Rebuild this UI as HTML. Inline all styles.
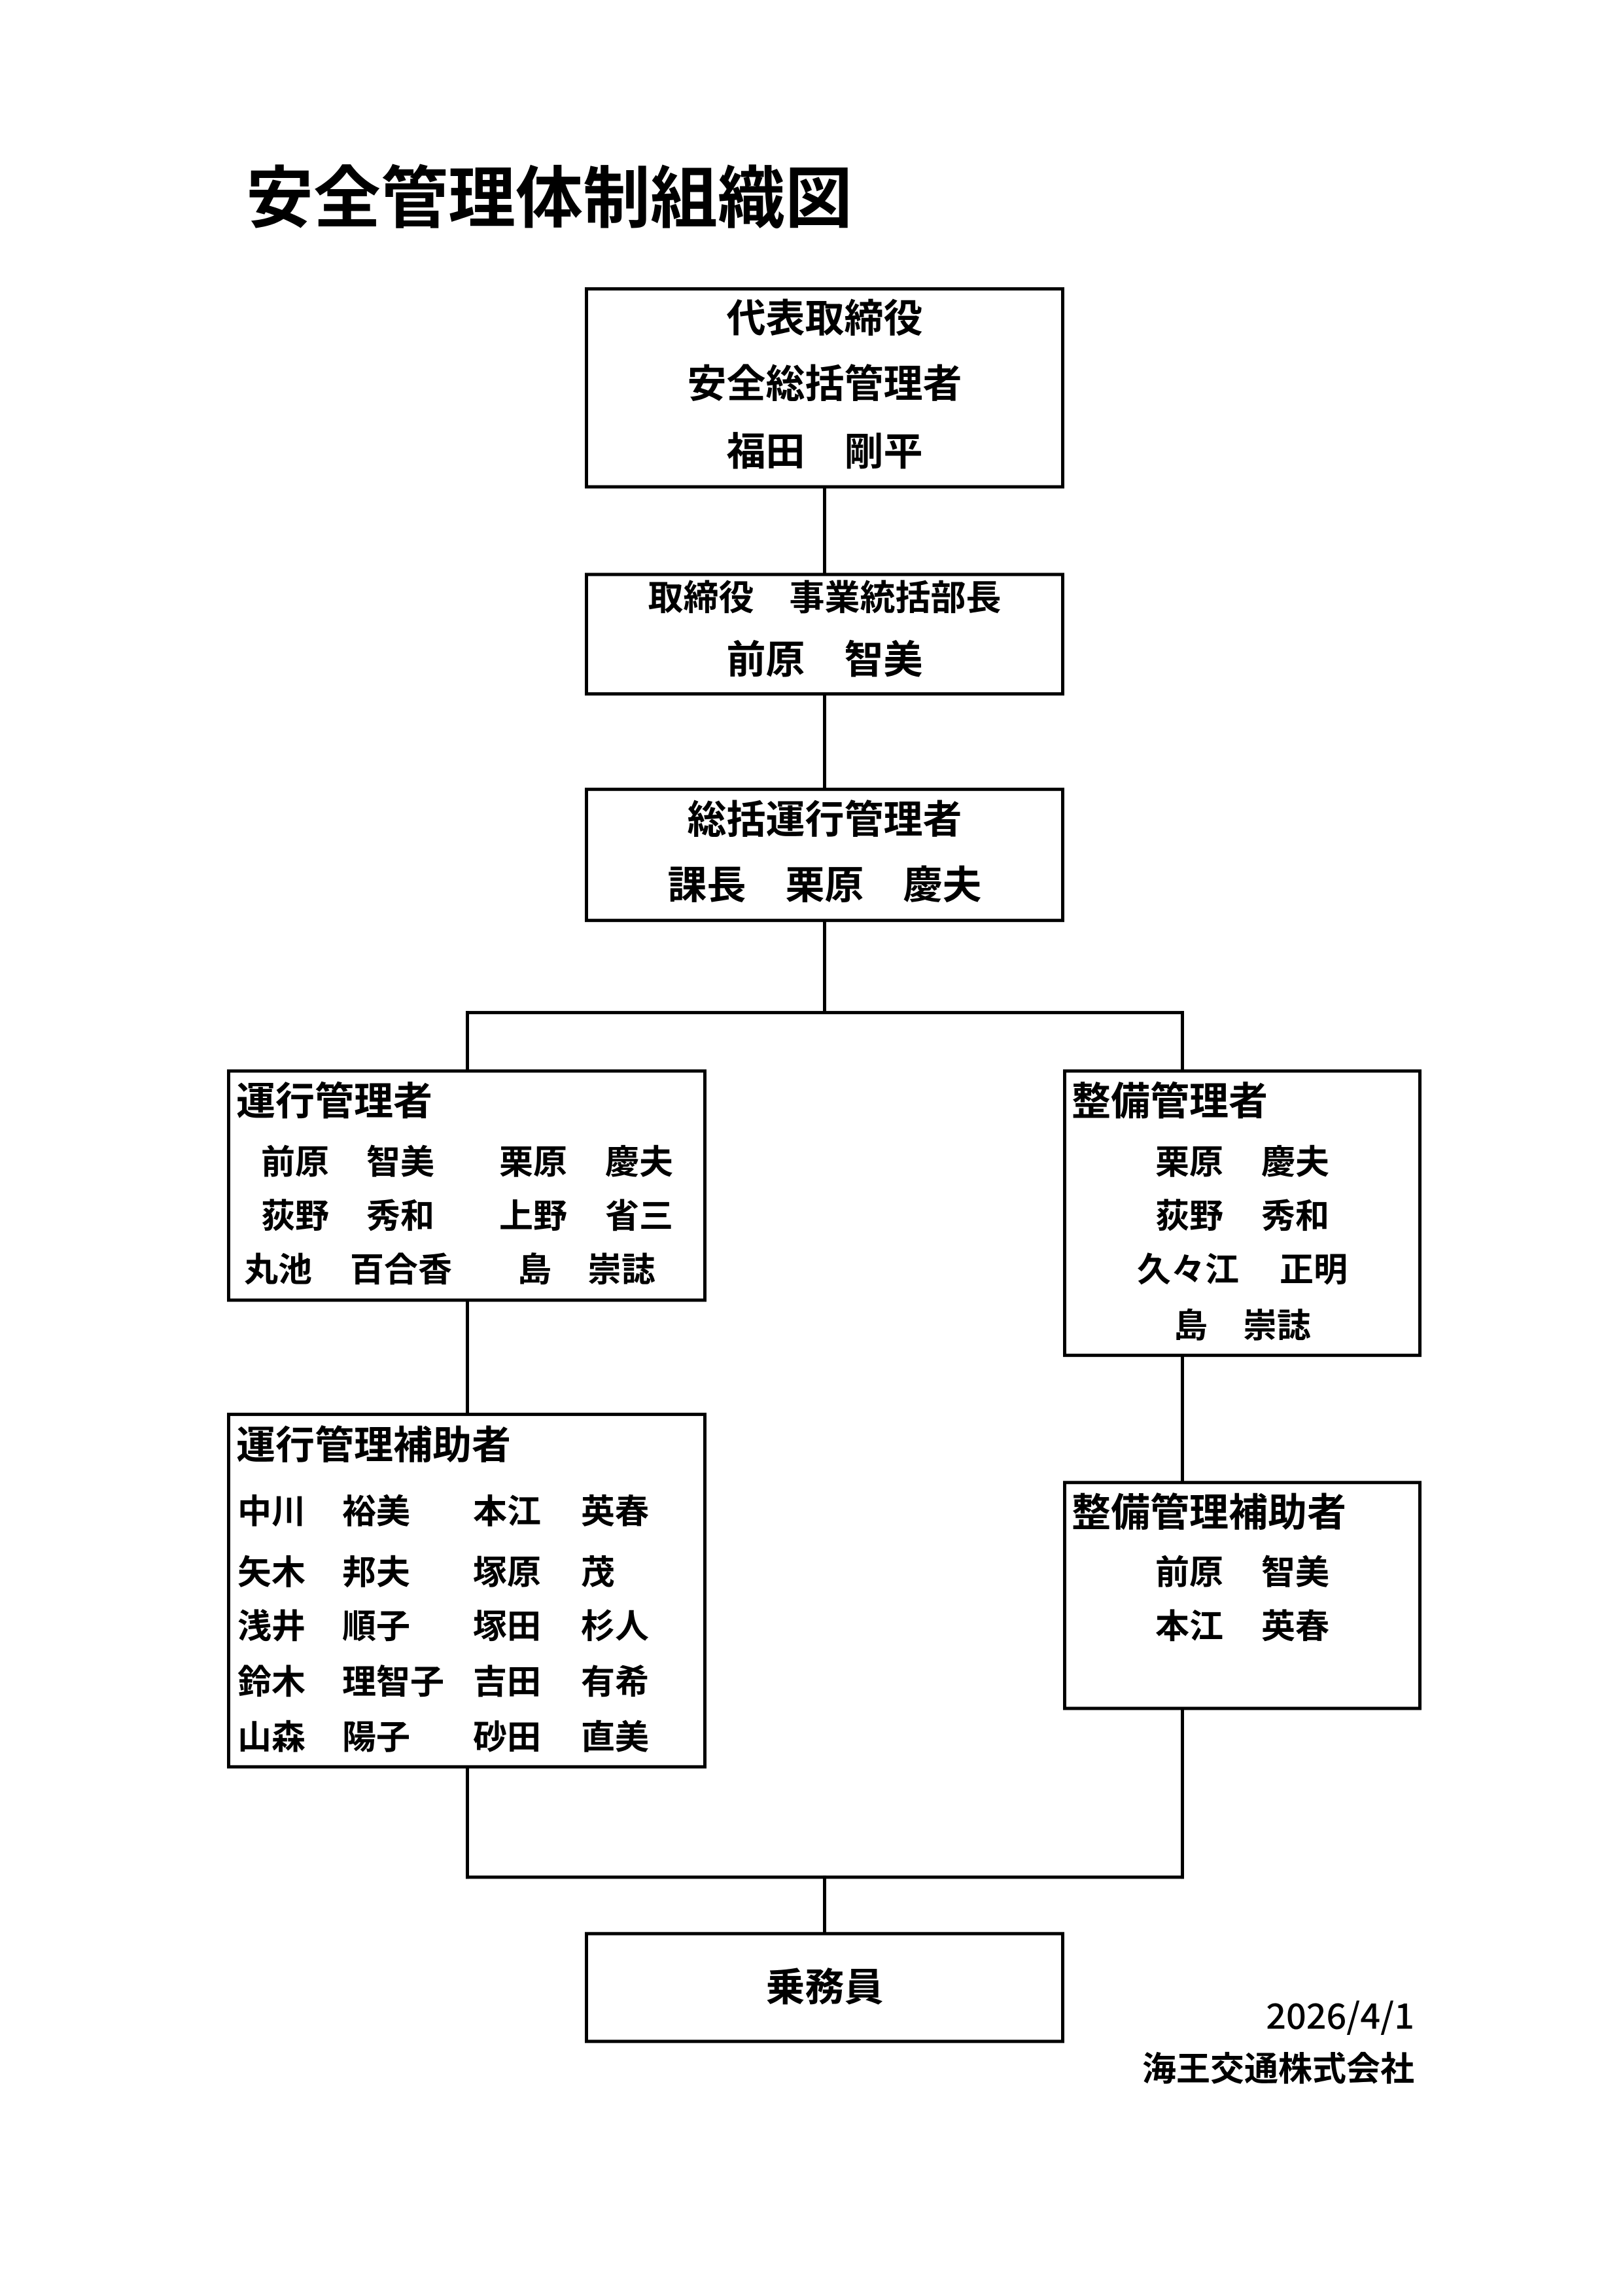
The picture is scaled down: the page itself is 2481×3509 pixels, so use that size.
<!DOCTYPE html>
<html><head><meta charset="utf-8"><style>
html,body{margin:0;padding:0;background:#fff;}
body{width:2481px;height:3509px;position:relative;overflow:hidden;font-family:"Liberation Sans","Noto Sans CJK JP",sans-serif;font-weight:bold;color:#000;}
#w{position:absolute;left:0;top:0;width:2481px;height:3509px;transform-origin:0 439px;transform:translateX(-6px) scaleY(0.992);}
.b{position:absolute;border:5px solid #000;box-sizing:border-box;}
.l{position:absolute;background:#000;}
.t{position:absolute;white-space:nowrap;line-height:1;font-size:52px;}
.c{position:absolute;white-space:nowrap;line-height:1;text-align:center;width:733px;left:900px;font-size:60px;}
</style></head><body>
<div class="t" style="left:376px;top:252px;font-size:103px;">安全管理体制組織図</div>
<div id="w">
<div class="b" style="left:900px;top:439px;width:733px;height:310px;"></div>
<div class="c" style="top:458px;">代表取締役</div>
<div class="c" style="top:559px;">安全総括管理者</div>
<div class="c" style="top:663px;">福田　剛平</div>

<div class="l" style="left:1264px;top:747px;width:5px;height:134px;"></div>
<div class="b" style="left:900px;top:879px;width:733px;height:189px;"></div>
<div class="c" style="top:891px;font-size:54px;">取締役　事業統括部長</div>
<div class="c" style="top:984px;">前原　智美</div>

<div class="l" style="left:1264px;top:1066px;width:5px;height:146px;"></div>
<div class="b" style="left:900px;top:1210px;width:733px;height:207px;"></div>
<div class="c" style="top:1230px;">総括運行管理者</div>
<div class="c" style="top:1331px;">課長　栗原　慶夫</div>

<div class="l" style="left:1264px;top:1415px;width:5px;height:143px;"></div>
<div class="l" style="left:718px;top:1554px;width:1098px;height:5px;"></div>
<div class="l" style="left:718px;top:1554px;width:5px;height:92px;"></div>
<div class="l" style="left:1811px;top:1554px;width:5px;height:92px;"></div>

<div class="b" style="left:353px;top:1644px;width:733px;height:358px;"></div>
<div class="t" style="left:367px;top:1664px;font-size:60px;">運行管理者</div>
<div class="t" style="left:405px;top:1762px;">前原</div>
<div class="t" style="left:566px;top:1762px;">智美</div>
<div class="t" style="left:769px;top:1762px;">栗原</div>
<div class="t" style="left:931px;top:1762px;">慶夫</div>
<div class="t" style="left:405px;top:1845px;">荻野</div>
<div class="t" style="left:566px;top:1845px;">秀和</div>
<div class="t" style="left:769px;top:1845px;">上野</div>
<div class="t" style="left:931px;top:1845px;">省三</div>
<div class="t" style="left:379px;top:1928px;">丸池</div>
<div class="t" style="left:541px;top:1928px;">百合香</div>
<div class="t" style="left:797px;top:1928px;">島</div>
<div class="t" style="left:904px;top:1928px;">崇誌</div>

<div class="b" style="left:1631px;top:1644px;width:548px;height:443px;"></div>
<div class="t" style="left:1644px;top:1664px;font-size:60px;">整備管理者</div>
<div class="t" style="left:1772px;top:1762px;">栗原</div>
<div class="t" style="left:1934px;top:1762px;">慶夫</div>
<div class="t" style="left:1772px;top:1845px;">荻野</div>
<div class="t" style="left:1934px;top:1845px;">秀和</div>
<div class="t" style="left:1744px;top:1928px;">久々江</div>
<div class="t" style="left:1962px;top:1928px;">正明</div>
<div class="t" style="left:1800px;top:2014px;">島</div>
<div class="t" style="left:1906px;top:2014px;">崇誌</div>

<div class="l" style="left:718px;top:2000px;width:5px;height:175px;"></div>
<div class="l" style="left:1811px;top:2085px;width:5px;height:195px;"></div>

<div class="b" style="left:353px;top:2173px;width:733px;height:548px;"></div>
<div class="t" style="left:367px;top:2194px;font-size:60px;">運行管理補助者</div>
<div class="t" style="left:369px;top:2300px;">中川</div>
<div class="t" style="left:529px;top:2300px;">裕美</div>
<div class="t" style="left:729px;top:2300px;">本江</div>
<div class="t" style="left:894px;top:2300px;">英春</div>
<div class="t" style="left:369px;top:2394px;">矢木</div>
<div class="t" style="left:529px;top:2394px;">邦夫</div>
<div class="t" style="left:729px;top:2394px;">塚原</div>
<div class="t" style="left:894px;top:2394px;">茂</div>
<div class="t" style="left:369px;top:2477px;">浅井</div>
<div class="t" style="left:529px;top:2477px;">順子</div>
<div class="t" style="left:729px;top:2477px;">塚田</div>
<div class="t" style="left:894px;top:2477px;">杉人</div>
<div class="t" style="left:369px;top:2563px;">鈴木</div>
<div class="t" style="left:529px;top:2563px;">理智子</div>
<div class="t" style="left:729px;top:2563px;">吉田</div>
<div class="t" style="left:894px;top:2563px;">有希</div>
<div class="t" style="left:369px;top:2648px;">山森</div>
<div class="t" style="left:529px;top:2648px;">陽子</div>
<div class="t" style="left:729px;top:2648px;">砂田</div>
<div class="t" style="left:894px;top:2648px;">直美</div>

<div class="b" style="left:1631px;top:2278px;width:548px;height:353px;"></div>
<div class="t" style="left:1644px;top:2298px;font-size:60px;">整備管理補助者</div>
<div class="t" style="left:1772px;top:2394px;">前原</div>
<div class="t" style="left:1934px;top:2394px;">智美</div>
<div class="t" style="left:1772px;top:2477px;">本江</div>
<div class="t" style="left:1934px;top:2477px;">英春</div>

<div class="l" style="left:718px;top:2719px;width:5px;height:172px;"></div>
<div class="l" style="left:1811px;top:2629px;width:5px;height:262px;"></div>
<div class="l" style="left:718px;top:2886px;width:1098px;height:5px;"></div>
<div class="l" style="left:1264px;top:2886px;width:5px;height:89px;"></div>

<div class="b" style="left:900px;top:2973px;width:733px;height:171px;"></div>
<div class="c" style="top:3029px;">乗務員</div>

<div class="t" style="right:313px;top:3072px;font-size:54px;font-family:'Noto Sans CJK JP',sans-serif;font-weight:500;">2026/4/1</div>
<div class="t" style="right:313px;top:3159px;font-size:52px;">海王交通株式会社</div>
</div>
</body></html>
